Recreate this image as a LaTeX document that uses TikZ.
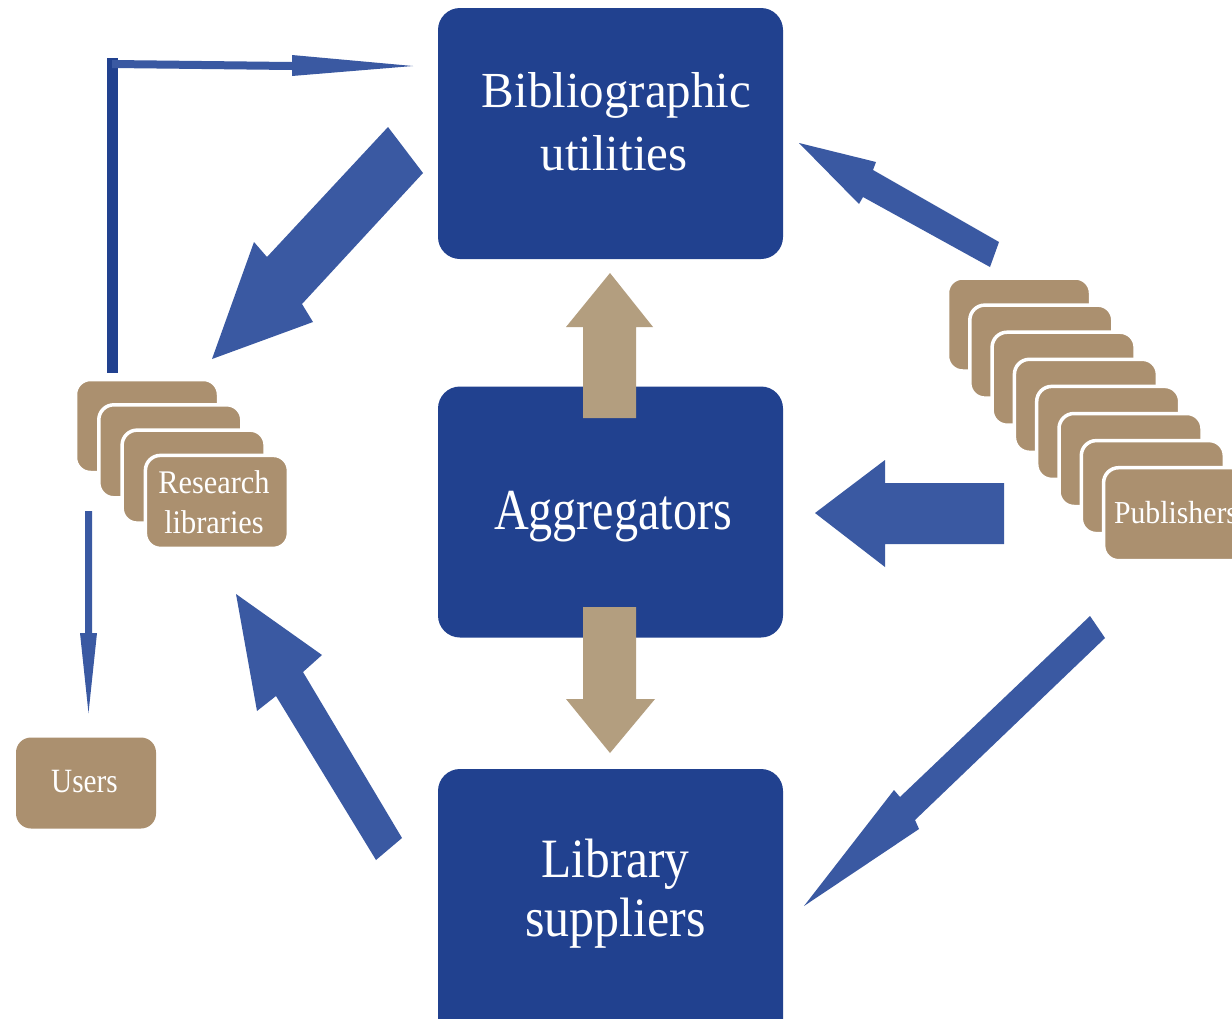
\documentclass[tikz,border=0pt]{standalone}
\usepackage{fontspec}
\setmainfont{Liberation Serif}
\usepackage{graphicx}
\definecolor{boxblue}{HTML}{21418F}
\definecolor{arrblue}{HTML}{3A59A2}
\definecolor{cardtan}{HTML}{AB906F}
\definecolor{arrtan}{HTML}{B39E7F}
\newcommand{\sctext}[3]{\scalebox{#1}[1]{\fontsize{#2}{#2}\selectfont #3}}
\begin{document}
\begin{tikzpicture}[x=1pt,y=-1pt,
  bluebox/.style={fill=boxblue, draw=none, rounded corners=22pt, minimum width=345pt, inner sep=0pt, outer sep=0pt},
  card/.style={fill=cardtan, draw=white, line width=3.5pt, rounded corners=15pt, minimum width=143pt, minimum height=93pt, inner sep=0pt},
  userbox/.style={fill=cardtan, draw=none, rounded corners=15pt, minimum width=140pt, minimum height=91pt, inner sep=0pt},
  wtext/.style={text=white, anchor=base, inner sep=0pt},
  blockblue/.style={fill=arrblue, draw=none},
  blockdark/.style={fill=boxblue, draw=none},
  blocktan/.style={fill=arrtan, draw=none}]
\useasboundingbox (0,0) rectangle (1232,1018);
\clip (0,0) rectangle (1232,1018);
\fill[white] (0,0) rectangle (1232,1018);

% main boxes
\node[bluebox, minimum height=251pt] (bib) at (610.5,133.5) {};
\node[bluebox, minimum height=251pt] (agg) at (610.5,512) {};
\node[bluebox, minimum height=300pt] (sup) at (610.5,919) {};

\node[wtext] (bibA) at (616.5,107) {\sctext{0.97}{50.5}{Bibliographic}};
\node[wtext] (bibB) at (614,170) {\sctext{0.97}{50.5}{utilities}};
\node[wtext] (aggA) at (613,529.5) {\sctext{0.83}{58}{Aggregators}};
\node[wtext] (supA) at (615.5,877) {\sctext{0.89}{55.5}{Library}};
\node[wtext] (supB) at (615.5,936) {\sctext{0.90}{55.5}{suppliers}};

% research libraries stack
\foreach \i in {0,...,3}{
  \node[card] (rl\i) at ({147+23.3*\i},{426+25.3*\i}) {};
}
\node[wtext] (rlA) at (214,493.3) {\sctext{0.92}{33}{Research}};
\node[wtext] (rlB) at (214,533.3) {\sctext{0.92}{33}{libraries}};

% publishers stack
\foreach \i in {0,...,7}{
  \node[card] (pb\i) at ({1019+22.3*\i},{324.5+27.1*\i}) {};
}
\node[wtext] (pbA) at (1176,523) {\sctext{0.93}{32}{Publishers}};

% users
\node[userbox] (users) at (86,783) {};
\node[wtext] (usA) at (84.5,792.7) {\sctext{0.86}{34}{Users}};

% L-shaped arrow from research libraries to bibliographic utilities
\fill[blockdark] (107,58) rectangle (118,373);
\fill[blockblue] (112,60) -- (292,62) -- (292,55) -- (413,66) -- (292,76) -- (292,70) -- (112,68) -- cycle;

% arrow down to users
\fill[blockblue] (85,511) -- (92,511) -- (92,633) -- (97,633) -- (88.5,713) -- (80,633) -- (85,633) -- cycle;

% bibliographic utilities -> research libraries
\fill[blockblue] (388,127) -- (423,173) -- (302,304) -- (313,322) -- (212,359) -- (254,242) -- (267,257) -- cycle;

% publishers -> bibliographic utilities
\fill[blockblue] (799,143) -- (876,162) -- (873,170) -- (999,242) -- (990,267) -- (863,197) -- (859,204) -- cycle;

% publishers -> aggregators
\fill[blockblue] (815,513) -- (885,460) -- (885,483) -- (1004,483) -- (1004,544) -- (885,544) -- (885,567) -- cycle;

% publishers -> library suppliers
\fill[blockblue] (1090,616) -- (1105,638) -- (915,820) -- (919,829) -- (804,906) -- (894,790) -- (900,797) -- cycle;

% library suppliers -> research libraries
\fill[blockblue] (236,594) -- (322,655) -- (303,672) -- (402,838) -- (376,860) -- (276,696) -- (257,711) -- cycle;

% tan arrows
\fill[blocktan] (610,273) -- (653,327) -- (636,327) -- (636,418) -- (583,418) -- (583,327) -- (566,327) -- cycle;
\fill[blocktan] (583,607) -- (636,607) -- (636,699) -- (655,699) -- (610,753) -- (566,699) -- (583,699) -- cycle;
\end{tikzpicture}
\end{document}
